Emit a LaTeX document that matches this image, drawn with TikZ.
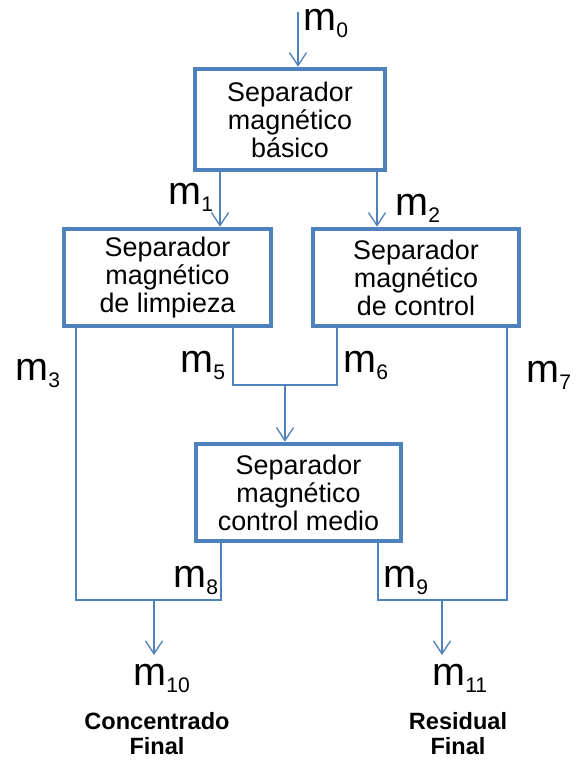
\documentclass[tikz,border=0pt]{standalone}
\usepackage{fontspec}
\setmainfont{Liberation Sans}
\usepackage{xcolor}
\usetikzlibrary{arrows.meta}

\definecolor{sepblue}{HTML}{4F81BD}
\newcommand{\mflow}[1]{m\raisebox{-4.5pt}{\fontsize{12}{12}\selectfont #1}}

\begin{document}
\begin{tikzpicture}[x=0.02cm, y=-0.02cm,
    sepbox/.style={draw=sepblue, line width=2.6pt, fill=white, align=center,
        inner sep=0pt, font=\fontsize{15.3}{16}\selectfont},
    flow/.style={draw=sepblue, line width=0.75pt},
    >={Straight Barb[length=7.4pt, width=9.7pt]},
    lbl/.style={anchor=base west, inner sep=0pt, font=\fontsize{22.5}{24}\selectfont},
    outlbl/.style={anchor=north, inner sep=0pt, align=center,
        font=\fontsize{13.4}{14.2}\selectfont\bfseries}]
    \useasboundingbox (0,0) rectangle (576,762);

    % Separators
    \node [sepbox, minimum width=3.8cm, minimum height=2.02cm] (basico) at (290,119.5)
        {Separador\\magnético\\básico};
    \node [sepbox, minimum width=4.14cm, minimum height=1.94cm] (limpieza) at (167.5,277.5)
        {Separador\\magnético\\de limpieza};
    \node [sepbox, minimum width=4.12cm, minimum height=1.94cm] (control) at (416,277.5)
        {Separador\\magnético\\de control};
    \node [sepbox, minimum width=4.1cm, minimum height=1.94cm] (medio) at (298.5,492.5)
        {Separador\\magnético\\control medio};

    % Line positions
    \coordinate (in) at (298,12);
    \coordinate (x1) at (220,0);
    \coordinate (x2) at (377,0);
    \coordinate (x3) at (76,0);
    \coordinate (x5) at (233,0);
    \coordinate (x6) at (337,0);
    \coordinate (xm) at (285,0);
    \coordinate (x7) at (507,0);
    \coordinate (x8) at (221,0);
    \coordinate (x9) at (378,0);
    \coordinate (ym) at (0,385);
    \coordinate (yb) at (0,600);
    \coordinate (out10) at (154,655);
    \coordinate (out11) at (442,655);

    % Flows
    \draw [flow, ->] (in) -- (in |- basico.north);
    \draw [flow, ->] (basico.south -| x1) -- (limpieza.north -| x1);
    \draw [flow, ->] (basico.south -| x2) -- (control.north -| x2);
    \draw [flow] (limpieza.south -| x5) |- (ym -| x6) -- (control.south -| x6);
    \draw [flow, ->] (ym -| xm) -- (medio.north -| xm);
    \draw [flow] (limpieza.south -| x3) |- (yb -| x8) -- (medio.south -| x8);
    \draw [flow] (control.south -| x7) |- (yb -| x9) -- (medio.south -| x9);
    \draw [flow, ->] (yb -| out10) -- (out10);
    \draw [flow, ->] (yb -| out11) -- (out11);

    % Stream labels
    \node [lbl] (m0) at (303,30) {\mflow{0}};
    \node [lbl] (m1) at (168,204) {\mflow{1}};
    \node [lbl] (m2) at (395,215) {\mflow{2}};
    \node [lbl] (m3) at (15,380) {\mflow{3}};
    \node [lbl] (m5) at (180,372) {\mflow{5}};
    \node [lbl] (m6) at (343,372) {\mflow{6}};
    \node [lbl] (m7) at (526,382) {\mflow{7}};
    \node [lbl] (m8) at (173,587) {\mflow{8}};
    \node [lbl] (m9) at (383,587) {\mflow{9}};
    \node [lbl] (m10) at (133,685) {\mflow{10}};
    \node [lbl] (m11) at (432,685) {\mflow{11}};

    % Products
    \node [outlbl] (conc) at (157,712) {Concentrado\\Final};
    \node [outlbl] (resid) at (458,712) {Residual\\Final};
\end{tikzpicture}
\end{document}
